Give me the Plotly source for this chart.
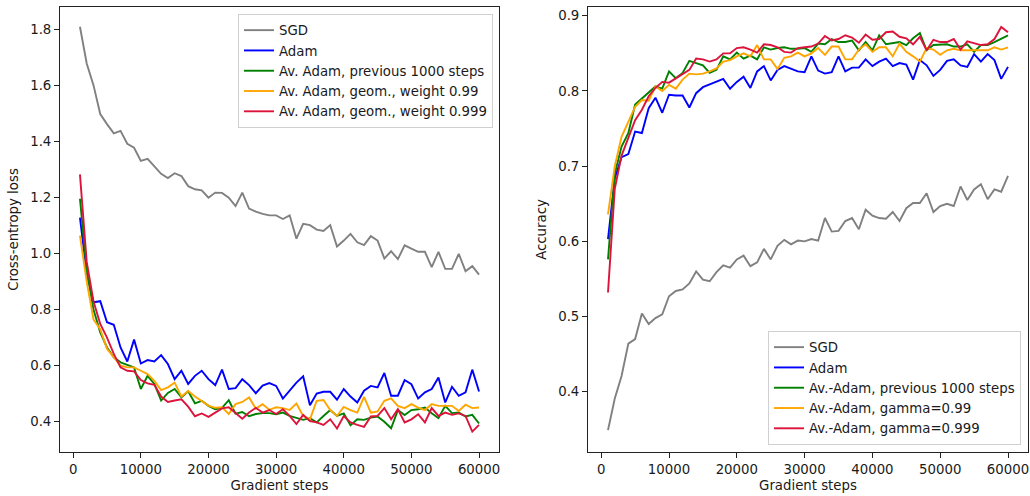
import plotly.graph_objects as go

steps = [1000 * i for i in range(1, 61)]
x_ticks = [0, 10000, 20000, 30000, 40000, 50000, 60000]

# Left panel: cross-entropy loss
sgd_loss = [1.808, 1.677, 1.600, 1.497, 1.461, 1.428, 1.437, 1.391, 1.377, 1.330,
            1.337, 1.309, 1.284, 1.269, 1.286, 1.276, 1.240, 1.229, 1.225, 1.199,
            1.217, 1.216, 1.199, 1.169, 1.217, 1.160, 1.149, 1.141, 1.136, 1.136,
            1.123, 1.136, 1.053, 1.106, 1.101, 1.085, 1.080, 1.101, 1.025, 1.046,
            1.070, 1.040, 1.030, 1.062, 1.046, 0.982, 1.008, 0.980, 1.029, 1.017,
            1.006, 1.006, 0.951, 1.006, 0.945, 0.945, 0.999, 0.937, 0.955, 0.925]
adam_loss = [1.128, 0.930, 0.826, 0.830, 0.755, 0.746, 0.665, 0.615, 0.693, 0.608,
             0.620, 0.615, 0.638, 0.606, 0.552, 0.582, 0.535, 0.564, 0.582, 0.552,
             0.531, 0.586, 0.517, 0.520, 0.552, 0.531, 0.502, 0.529, 0.538, 0.528,
             0.483, 0.513, 0.540, 0.562, 0.459, 0.501, 0.507, 0.507, 0.479, 0.517,
             0.490, 0.469, 0.511, 0.528, 0.523, 0.574, 0.493, 0.493, 0.549, 0.534,
             0.483, 0.505, 0.517, 0.558, 0.469, 0.525, 0.493, 0.505, 0.586, 0.508]
avg1000_loss = [1.195, 0.940, 0.800, 0.719, 0.665, 0.630, 0.612, 0.603, 0.594, 0.517,
                0.564, 0.535, 0.476, 0.503, 0.517, 0.487, 0.509, 0.466, 0.475, 0.457,
                0.445, 0.450, 0.477, 0.429, 0.435, 0.420, 0.428, 0.431, 0.431, 0.427,
                0.433, 0.421, 0.413, 0.407, 0.413, 0.398, 0.421, 0.442, 0.421, 0.430,
                0.388, 0.409, 0.407, 0.415, 0.419, 0.400, 0.377, 0.442, 0.424, 0.442,
                0.445, 0.451, 0.431, 0.413, 0.457, 0.431, 0.433, 0.419, 0.425, 0.394]
geom099_loss = [1.064, 0.900, 0.765, 0.730, 0.660, 0.630, 0.600, 0.594, 0.594, 0.582,
                0.570, 0.546, 0.513, 0.523, 0.540, 0.490, 0.510, 0.490, 0.475, 0.458,
                0.450, 0.452, 0.428, 0.463, 0.471, 0.487, 0.447, 0.463, 0.443, 0.452,
                0.449, 0.442, 0.465, 0.421, 0.409, 0.475, 0.478, 0.442, 0.421, 0.453,
                0.442, 0.433, 0.489, 0.433, 0.437, 0.475, 0.484, 0.457, 0.449, 0.463,
                0.451, 0.442, 0.463, 0.457, 0.457, 0.457, 0.439, 0.461, 0.449, 0.451]
geom0999_loss = [1.282, 0.970, 0.830, 0.749, 0.700, 0.642, 0.594, 0.582, 0.580, 0.549,
                 0.537, 0.532, 0.490, 0.471, 0.476, 0.480, 0.454, 0.420, 0.430, 0.418,
                 0.433, 0.448, 0.452, 0.431, 0.411, 0.433, 0.450, 0.433, 0.442, 0.428,
                 0.445, 0.421, 0.392, 0.425, 0.403, 0.398, 0.389, 0.409, 0.376, 0.421,
                 0.398, 0.389, 0.382, 0.419, 0.421, 0.449, 0.409, 0.445, 0.398, 0.409,
                 0.427, 0.398, 0.449, 0.421, 0.433, 0.425, 0.430, 0.421, 0.365, 0.389]

# Right panel: accuracy
sgd_acc = [0.349, 0.391, 0.421, 0.464, 0.470, 0.504, 0.490, 0.498, 0.503, 0.527,
           0.534, 0.536, 0.544, 0.560, 0.549, 0.547, 0.559, 0.568, 0.565, 0.576,
           0.581, 0.567, 0.572, 0.590, 0.576, 0.594, 0.602, 0.596, 0.601, 0.600,
           0.603, 0.601, 0.631, 0.613, 0.614, 0.627, 0.631, 0.616, 0.642, 0.634,
           0.631, 0.630, 0.639, 0.627, 0.644, 0.651, 0.651, 0.664, 0.639, 0.647,
           0.650, 0.647, 0.673, 0.655, 0.669, 0.676, 0.656, 0.669, 0.666, 0.687]
adam_acc = [0.603, 0.684, 0.712, 0.716, 0.746, 0.744, 0.777, 0.791, 0.771, 0.795,
            0.794, 0.794, 0.778, 0.797, 0.805, 0.809, 0.812, 0.816, 0.803, 0.812,
            0.819, 0.804, 0.826, 0.833, 0.814, 0.828, 0.833, 0.830, 0.826, 0.825,
            0.846, 0.827, 0.823, 0.825, 0.846, 0.826, 0.831, 0.831, 0.842, 0.833,
            0.839, 0.843, 0.833, 0.837, 0.835, 0.815, 0.841, 0.834, 0.820, 0.828,
            0.840, 0.842, 0.834, 0.832, 0.849, 0.839, 0.849, 0.841, 0.816, 0.832]
avg1000_acc = [0.576, 0.690, 0.726, 0.744, 0.782, 0.790, 0.799, 0.806, 0.803, 0.826,
               0.817, 0.824, 0.840, 0.837, 0.834, 0.824, 0.828, 0.846, 0.842, 0.851,
               0.843, 0.847, 0.842, 0.858, 0.855, 0.857, 0.858, 0.856, 0.856, 0.857,
               0.852, 0.863, 0.862, 0.869, 0.865, 0.865, 0.867, 0.854, 0.865, 0.854,
               0.874, 0.862, 0.863, 0.865, 0.861, 0.870, 0.877, 0.854, 0.861, 0.862,
               0.862, 0.859, 0.859, 0.862, 0.852, 0.861, 0.861, 0.865, 0.869, 0.874]
geom099_acc = [0.636, 0.700, 0.739, 0.759, 0.779, 0.788, 0.787, 0.806, 0.800, 0.808,
               0.803, 0.815, 0.823, 0.822, 0.823, 0.826, 0.830, 0.839, 0.841, 0.846,
               0.850, 0.846, 0.861, 0.842, 0.842, 0.829, 0.844, 0.846, 0.851, 0.846,
               0.850, 0.857, 0.848, 0.859, 0.859, 0.842, 0.842, 0.855, 0.862, 0.852,
               0.858, 0.858, 0.846, 0.863, 0.852, 0.846, 0.839, 0.857, 0.855, 0.848,
               0.854, 0.856, 0.854, 0.854, 0.854, 0.854, 0.854, 0.858, 0.855, 0.858]
geom0999_acc = [0.532, 0.670, 0.714, 0.737, 0.761, 0.775, 0.793, 0.804, 0.812, 0.811,
                0.817, 0.822, 0.828, 0.843, 0.842, 0.839, 0.842, 0.850, 0.850, 0.857,
                0.858, 0.855, 0.851, 0.862, 0.861, 0.858, 0.852, 0.851, 0.857, 0.858,
                0.859, 0.863, 0.873, 0.867, 0.869, 0.874, 0.871, 0.864, 0.875, 0.868,
                0.869, 0.878, 0.879, 0.872, 0.870, 0.862, 0.872, 0.854, 0.868, 0.865,
                0.865, 0.869, 0.855, 0.866, 0.863, 0.861, 0.862, 0.869, 0.885, 0.878]

left_names = ["SGD", "Adam", "Av. Adam, previous 1000 steps",
              "Av. Adam, geom., weight 0.99", "Av. Adam, geom., weight 0.999"]
right_names = ["SGD", "Adam", "Av.-Adam, previous 1000 steps",
               "Av.-Adam, gamma=0.99", "Av.-Adam, gamma=0.999"]
colors = ["grey", "blue", "green", "orange", "crimson"]

left_series = [sgd_loss, adam_loss, avg1000_loss, geom099_loss, geom0999_loss]
right_series = [sgd_acc, adam_acc, avg1000_acc, geom099_acc, geom0999_acc]

fig = go.Figure()
for name, ys, c in zip(left_names, left_series, colors):
    fig.add_trace(go.Scatter(x=steps, y=ys, mode="lines", name=name,
                             line=dict(color=c, width=1.9),
                             xaxis="x", yaxis="y", legend="legend"))
for name, ys, c in zip(right_names, right_series, colors):
    fig.add_trace(go.Scatter(x=steps, y=ys, mode="lines", name=name,
                             line=dict(color=c, width=1.9),
                             xaxis="x2", yaxis="y2", legend="legend2"))

W, H = 1030, 496
font = dict(family="DejaVu Sans", size=13.3, color="#1a1a1a")
axis_common = dict(showline=True, linecolor="#222", linewidth=1, mirror=True,
                   ticks="outside", ticklen=5, tickwidth=1, tickcolor="#222",
                   showgrid=False, zeroline=False, automargin=False,
                   tickfont=font)

y_dom = [1 - 452 / H, 1 - 7 / H]
fig.update_layout(
    width=W, height=H,
    margin=dict(l=0, r=0, t=0, b=0),
    paper_bgcolor="white", plot_bgcolor="white",
    font=font,
    xaxis=dict(domain=[60 / W, 499 / W], range=[-1950, 62950],
               tickvals=x_ticks, tickformat="d",
               title=dict(text="Gradient steps", standoff=4, font=font),
               anchor="y", **axis_common),
    yaxis=dict(domain=y_dom, range=[0.2925, 1.8785],
               tickvals=[0.4, 0.6, 0.8, 1.0, 1.2, 1.4, 1.6, 1.8], tickformat=".1f",
               title=dict(text="Cross-entropy loss", standoff=8, font=font),
               anchor="x", **axis_common),
    xaxis2=dict(domain=[588 / W, 1028 / W], range=[-1950, 62950],
                tickvals=x_ticks, tickformat="d",
                title=dict(text="Gradient steps", standoff=4, font=font),
                anchor="y2", **axis_common),
    yaxis2=dict(domain=y_dom, range=[0.3199, 0.9116],
                tickvals=[0.4, 0.5, 0.6, 0.7, 0.8, 0.9], tickformat=".1f",
                title=dict(text="Accuracy", standoff=8, font=font),
                anchor="x2", **axis_common),
    legend=dict(x=493 / W, y=1 - 14 / H, xanchor="right", yanchor="top",
                bgcolor="rgba(255,255,255,0.8)", bordercolor="#d0d0d0",
                borderwidth=1, font=font, tracegroupgap=0),
    legend2=dict(x=1021 / W, y=1 - 445 / H, xanchor="right", yanchor="bottom",
                 bgcolor="rgba(255,255,255,0.8)", bordercolor="#d0d0d0",
                 borderwidth=1, font=font, tracegroupgap=0),
)

fig.write_html("out.html")
